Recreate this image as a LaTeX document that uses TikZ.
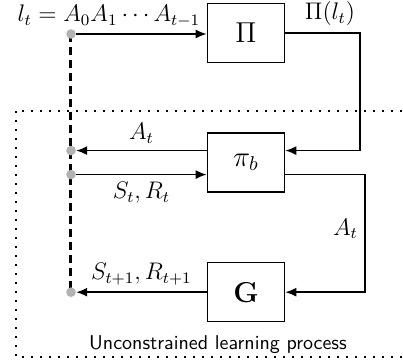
\documentclass[tikz,border=0pt]{standalone}
\usepackage{amsmath, amssymb}
\usepackage{tikz}
\usetikzlibrary{arrows.meta, positioning}

\begin{document}
\begin{tikzpicture}[
  x=0.5pt, y=-0.5pt,
  node distance=34.5pt,
  font=\large,
  block/.style={rectangle, draw=black, thick, minimum width=38.5pt, minimum height=29.5pt, inner sep=0pt, font=\Large},
  dot/.style={circle, fill=gray!60, inner sep=0pt, minimum size=4.8pt},
  arr/.style={-{Latex[length=5.5pt, width=4.5pt]}, thick},
  bus/.style={line width=1.5pt, dash pattern=on 4pt off 2.5pt},
  region/.style={line width=1pt, dash pattern=on 1pt off 3.5pt}
]
  \useasboundingbox (0,0) rectangle (403,363);

  \node[block] (Pi) at (246,33) {$\Pi$};
  \node[block, below=of Pi] (pib) {$\pi_b$};
  \node[block, below=of pib] (G) {$\mathbf{G}$};

  % tap points on the bus
  \coordinate (c1) at (71,34);
  \coordinate (p2) at ([yshift=6pt]pib.west);
  \coordinate (p3) at ([yshift=-6pt]pib.west);
  \coordinate (c2) at (c1 |- p2);
  \coordinate (c3) at (c1 |- p3);
  \coordinate (c4) at (c1 |- G.west);

  % unconstrained region
  \draw[region] (16,111) rectangle (440,357);
  \node[font=\sffamily] (lbl) at (218,345) {Unconstrained learning process};

  \draw[bus] (c1) -- (c4);
  \node[dot] (d1) at (c1) {};
  \node[dot] (d2) at (c2) {};
  \node[dot] (d3) at (c3) {};
  \node[dot] (d4) at (c4) {};

  \draw[arr] (d1) -- node[above, pos=0.25, inner sep=3pt] {$l_t = A_0A_1\cdots A_{t-1}$} (d1 -| Pi.west);
  \draw[arr] (Pi.east) -- node[above, pos=0.6] {$\Pi(l_t)$} ++(37.25pt,0) |- ([yshift=6pt]pib.east);
  \draw[arr] (p2) -- node[above] {$A_t$} (d2);
  \draw[arr] (d3) -- node[below] {$S_t, R_t$} (p3);
  \draw[arr] ([yshift=-6pt]pib.east) -- ++(40pt,0) |- node[left, pos=0.23] {$A_t$} (G.east);
  \draw[arr] (G.west) -- node[above] {$S_{t+1}, R_{t+1}$} (d4);
\end{tikzpicture}
\end{document}
